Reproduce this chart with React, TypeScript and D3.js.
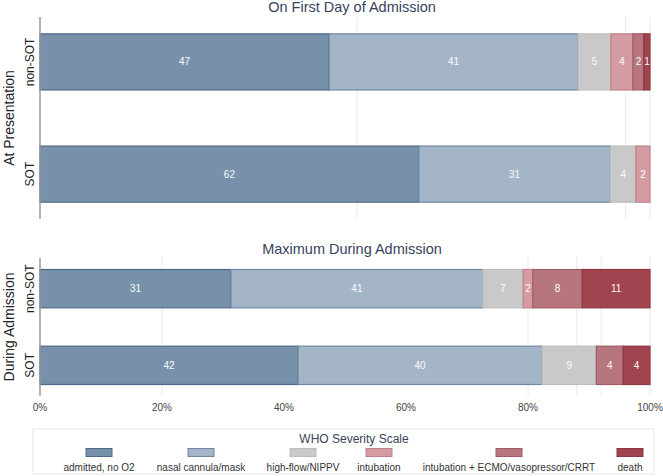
import { useRef, useEffect } from 'react';
import * as d3 from 'd3';

// WHO severity categories, mildest first
const CATEGORIES = [
  'admitted, no O2',
  'nasal cannula/mask',
  'high-flow/NIPPV',
  'intubation',
  'intubation + ECMO/vasopressor/CRRT',
  'death',
];
const GROUPS = ['non-SOT', 'SOT'];

// percent of patients per category
const FIRST_DAY_NON_SOT = [47.4, 40.8, 5.4, 3.6, 1.8, 1.0];
const FIRST_DAY_SOT = [62.1, 31.4, 4.2, 2.3, 0, 0];
const MAX_NON_SOT = [31.3, 41.3, 6.6, 1.6, 8.1, 11.1];
const MAX_SOT = [42.3, 40.0, 8.9, 0, 4.4, 4.4];

const X_TICKS = [0, 20, 40, 60, 80, 100];
const FIRST_DAY_GRID = [52, 96, 100];
const MAX_GRID = [20, 80, 88, 92, 100];

const FILLS = ['#7791ab', '#a4b5c7', '#c9c9c9', '#d49ca2', '#b7767e', '#a2444f'];
const STROKES = ['#4e6a89', '#6e88a5', '#bdbdbd', '#c2818a', '#a05c65', '#8c3742'];

const WIDTH = 663;
const HEIGHT = 476;
const X_LEFT = 40;
const X_RIGHT = 650;
const FONT = '"Liberation Sans", Arial, sans-serif';
const TITLE_COLOR = '#37435c';

interface Panel {
  title: string;
  rowLabel: string;
  rows: number[][];
  grid: number[];
  top: number;
  bottom: number;
  titleY: number;
  gridTop: number;
  gridBottom: number;
}

const PANELS: Panel[] = [
  {
    title: 'On First Day of Admission',
    rowLabel: 'At Presentation',
    rows: [FIRST_DAY_NON_SOT, FIRST_DAY_SOT],
    grid: FIRST_DAY_GRID,
    top: 17,
    bottom: 219,
    titleY: 12,
    gridTop: 17,
    gridBottom: 220,
  },
  {
    title: 'Maximum During Admission',
    rowLabel: 'During Admission',
    rows: [MAX_NON_SOT, MAX_SOT],
    grid: MAX_GRID,
    top: 258,
    bottom: 396,
    titleY: 254,
    gridTop: 256,
    gridBottom: 396,
  },
];

const LEGEND_X = [99, 201, 303, 379, 509, 630];

export default function App() {
  const svgRef = useRef<SVGSVGElement>(null);

  useEffect(() => {
    if (!svgRef.current) return;
    const svg = d3.select(svgRef.current);
    svg.selectAll('*').remove();

    const x = d3.scaleLinear().domain([0, 100]).range([X_LEFT, X_RIGHT]);

    PANELS.forEach((panel) => {
      const g = svg.append('g');
      const y = d3
        .scaleBand<string>()
        .domain(GROUPS)
        .range([panel.top, panel.bottom])
        .paddingInner(0.5)
        .paddingOuter(0.15);

      // ── Grid ───────────────────────────────────────────────────────────
      g.append('g')
        .selectAll('line')
        .data(panel.grid)
        .join('line')
        .attr('x1', (d) => x(d))
        .attr('x2', (d) => x(d))
        .attr('y1', panel.gridTop)
        .attr('y2', panel.gridBottom)
        .attr('stroke', '#ececec')
        .attr('stroke-width', 1);

      // ── Stacked bars ───────────────────────────────────────────────────
      const table = GROUPS.map((grp, i) => {
        const row: Record<string, any> = { group: grp };
        CATEGORIES.forEach((c, j) => (row[c] = panel.rows[i][j]));
        return row;
      });
      const series = d3.stack<Record<string, any>>().keys(CATEGORIES)(table);

      series.forEach((s, ci) => {
        const segs = s.filter((d) => d[1] - d[0] > 0);
        const sg = g.append('g');
        sg.selectAll('rect')
          .data(segs)
          .join('rect')
          .attr('x', (d) => x(d[0]))
          .attr('y', (d) => y(d.data.group)!)
          .attr('width', (d) => x(d[1]) - x(d[0]))
          .attr('height', y.bandwidth())
          .attr('fill', FILLS[ci])
          .attr('stroke', STROKES[ci])
          .attr('stroke-width', 1.2);

        sg.selectAll('text')
          .data(segs)
          .join('text')
          .attr('x', (d) => (x(d[0]) + x(d[1])) / 2)
          .attr('y', (d) => y(d.data.group)! + y.bandwidth() / 2)
          .attr('dy', '0.35em')
          .attr('text-anchor', 'middle')
          .attr('font-family', FONT)
          .attr('font-size', '10px')
          .attr('fill', '#fbfbfb')
          .text((d) => Math.round(d[1] - d[0]));
      });

      // ── Left axis line ─────────────────────────────────────────────────
      g.append('line')
        .attr('x1', X_LEFT)
        .attr('x2', X_LEFT)
        .attr('y1', panel.top)
        .attr('y2', panel.bottom)
        .attr('stroke', '#9a9a9a')
        .attr('stroke-width', 1.5);

      // group labels
      g.append('g')
        .selectAll('text')
        .data(GROUPS)
        .join('text')
        .attr('transform', (d) => `translate(34,${y(d)! + y.bandwidth() / 2}) rotate(-90)`)
        .attr('text-anchor', 'middle')
        .attr('font-family', FONT)
        .attr('font-size', '12px')
        .attr('fill', '#222')
        .text((d) => d);

      // row label
      g.append('text')
        .attr('transform', `translate(14,${(panel.top + panel.bottom) / 2}) rotate(-90)`)
        .attr('text-anchor', 'middle')
        .attr('font-family', FONT)
        .attr('font-size', '14px')
        .attr('fill', '#222')
        .text(panel.rowLabel);

      // title
      g.append('text')
        .attr('x', 352)
        .attr('y', panel.titleY)
        .attr('text-anchor', 'middle')
        .attr('font-family', FONT)
        .attr('font-size', '14.5px')
        .attr('fill', TITLE_COLOR)
        .text(panel.title);
    });

    // ── X tick labels ────────────────────────────────────────────────────
    svg.append('g')
      .selectAll('text')
      .data(X_TICKS)
      .join('text')
      .attr('x', (d) => x(d))
      .attr('y', 411)
      .attr('text-anchor', 'middle')
      .attr('font-family', FONT)
      .attr('font-size', '10px')
      .attr('fill', '#444')
      .text((d) => `${d}%`);

    // ── Legend ───────────────────────────────────────────────────────────
    const lg = svg.append('g');
    lg.append('rect')
      .attr('x', 33)
      .attr('y', 429)
      .attr('width', 621)
      .attr('height', 45)
      .attr('fill', '#fff')
      .attr('stroke', '#e6e6e6');
    lg.append('text')
      .attr('x', 354)
      .attr('y', 443)
      .attr('text-anchor', 'middle')
      .attr('font-family', FONT)
      .attr('font-size', '12px')
      .attr('fill', TITLE_COLOR)
      .text('WHO Severity Scale');

    const items = lg
      .selectAll('g.item')
      .data(CATEGORIES)
      .join('g')
      .attr('class', 'item')
      .attr('transform', (_, i) => `translate(${LEGEND_X[i]},0)`);
    items
      .append('rect')
      .attr('x', -13)
      .attr('y', 448.5)
      .attr('width', 26)
      .attr('height', 8)
      .attr('fill', (_, i) => FILLS[i])
      .attr('stroke', (_, i) => STROKES[i])
      .attr('stroke-width', 1);
    items
      .append('text')
      .attr('y', 471)
      .attr('text-anchor', 'middle')
      .attr('font-family', FONT)
      .attr('font-size', '10px')
      .attr('fill', '#333')
      .text((d) => d);
  }, []);

  return (
    <svg
      ref={svgRef}
      width={WIDTH}
      height={HEIGHT}
      viewBox={`0 0 ${WIDTH} ${HEIGHT}`}
      style={{ position: 'absolute', left: 0, top: 0, display: 'block', background: '#fff' }}
    />
  );
}
